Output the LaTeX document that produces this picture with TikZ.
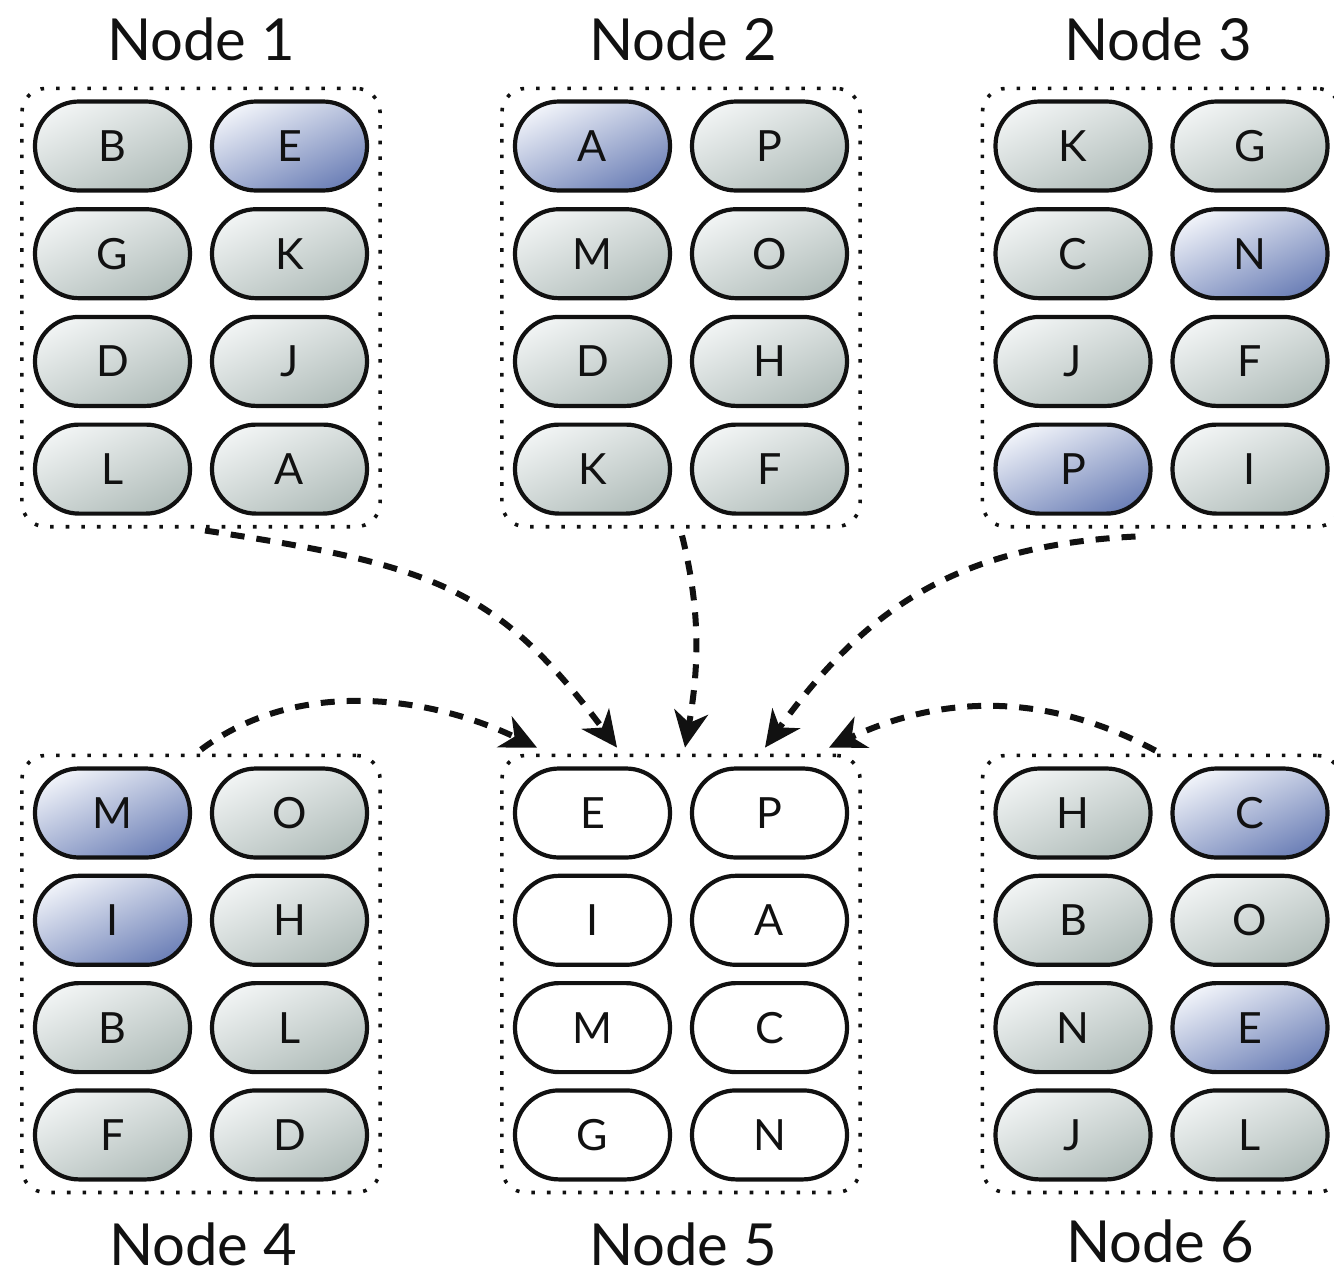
\documentclass[tikz,border=0pt]{standalone}
\usepackage{fontspec}
\setmainfont{Lato}
\usetikzlibrary{arrows.meta,fit,calc}

\definecolor{greyhi}{HTML}{F0F3F3}
\definecolor{greylo}{HTML}{B2BEBB}
\definecolor{bluehi}{HTML}{EEF1F8}
\definecolor{bluelo}{HTML}{6F82B8}
\definecolor{ink}{HTML}{111111}

\tikzset{
  pill/.style={draw=ink, line width=4.2pt, rectangle, rounded corners=44pt,
    minimum width=155pt, minimum height=89pt, inner sep=0pt,
    text=ink, font=\fontsize{43pt}{50pt}\selectfont},
  gp/.style={top color=greyhi, bottom color=greylo, shading angle=25},
  bp/.style={top color=bluehi, bottom color=bluelo, shading angle=25},
  wp/.style={fill=white},
  box/.style={draw=ink, line width=3.6pt, dash pattern=on 3.6pt off 12pt,
    rounded corners=24pt, inner sep=11pt},
  flow/.style={draw=ink, line width=6pt, dash pattern=on 14pt off 12pt,
    -{Stealth[length=36pt,width=34pt,inset=11pt]}},
  lbl/.style={text=ink, anchor=base, inner sep=0pt,
    font=\fontsize{58pt}{66pt}\selectfont}
}

\begin{document}
\begin{tikzpicture}[x=1pt,y=-1pt]
\useasboundingbox (0,0) rectangle (1334,1278);

% storage groups: name / left column x / first row y / row pitch / contents
\foreach \g/\gx/\gy/\dy/\items in {
  n1/112.5/146/107.7/{gp/B,bp/E,gp/G,gp/K,gp/D,gp/J,gp/L,gp/A},
  n2/592.5/146/107.7/{bp/A,gp/P,gp/M,gp/O,gp/D,gp/H,gp/K,gp/F},
  n3/1073/146/107.7/{gp/K,gp/G,gp/C,bp/N,gp/J,gp/F,bp/P,gp/I},
  n4/112.5/813/107.3/{bp/M,gp/O,bp/I,gp/H,gp/B,gp/L,gp/F,gp/D},
  n5/592.5/813/107.3/{wp/E,wp/P,wp/I,wp/A,wp/M,wp/C,wp/G,wp/N},
  n6/1073/813/107.3/{gp/H,bp/C,gp/B,gp/O,gp/N,bp/E,gp/J,gp/L}}{
  \foreach \s/\t [count=\i from 0] in \items {
    \pgfmathtruncatemacro\cc{mod(\i,2)}
    \pgfmathtruncatemacro\rr{div(\i,2)}
    \node[pill,\s] (\g-\i) at ({\gx+177*\cc},{\gy+\dy*\rr}) {\t};
  }
  \node[box,fit=(\g-0)(\g-7)] (\g) {};
}

% group captions (placed on their baselines)
\node[lbl] (l1) at (201,60) {Node 1};
\node[lbl] (l2) at (683,60) {Node 2};
\node[lbl] (l3) at (1158,60) {Node 3};
\node[lbl] (l4) at (203,1265) {Node 4};
\node[lbl] (l5) at (683,1265) {Node 5};
\node[lbl] (l6) at (1160,1262) {Node 6};

% end points of the transfers
\coordinate (s1) at ($(n1.south)+(4,2)$);
\coordinate (s2) at ($(n2.south)+(1,7)$);
\coordinate (s3) at ($(n3.south)+(-26,8)$);
\coordinate (s4) at ($(n4.north)+(0,-4)$);
\coordinate (s6) at ($(n6.north)+(-6,-3)$);
\coordinate (t1) at ($(n5.north)+(-64,-6)$);
\coordinate (t2) at ($(n5.north)+(4,-6)$);
\coordinate (t3) at ($(n5.north)+(84,-6)$);
\coordinate (t4) at ($(n5.north)+(-144,-6)$);
\coordinate (t6) at ($(n5.north)+(148,-6)$);

% transfers into node 5
\draw[flow] (s1) .. controls +(230,35) and +(-120,-160) .. (t1);
\draw[flow] (s2) .. controls +(20,80) and +(13,-75) .. (t2);
\draw[flow] (s3) .. controls +(-180,9) and +(100,-138) .. (t3);
\draw[flow] (s4) .. controls +(96,-72) and +(-108,-52) .. (t4);
\draw[flow] (s6) .. controls +(-110,-59) and +(113,-53) .. (t6);
\end{tikzpicture}
\end{document}
